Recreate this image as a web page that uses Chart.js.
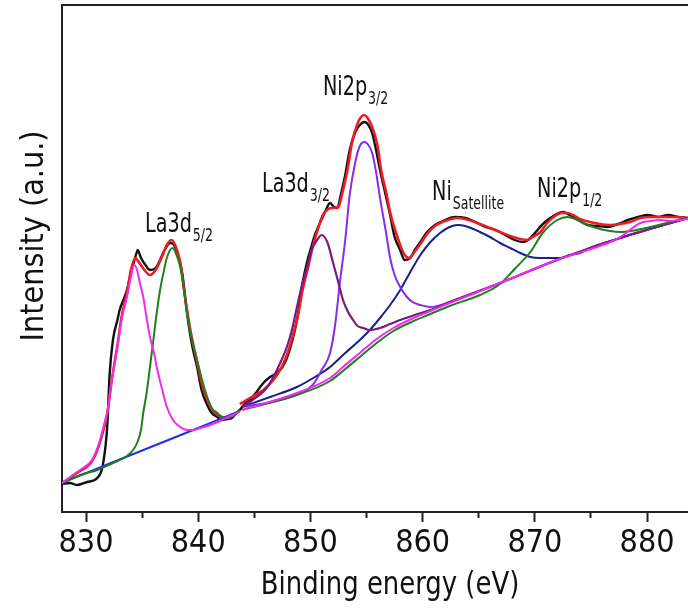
<!DOCTYPE html>
<html>
<head>
<meta charset="utf-8">
<script src="https://cdn.jsdelivr.net/npm/chart.js@4.4.1/dist/chart.umd.min.js"></script>
<style>
  html, body { margin: 0; padding: 0; background: #fff; overflow: hidden; }
  canvas { display: block; }
</style>
</head>
<body>
<canvas id="xps" width="720" height="608"></canvas>
<script>
// binding energy (eV) / intensity (a.u.)

// measured spectrum (black)
const expE = [827.86, 828.57, 829.2, 830.1, 831.0, 831.5, 831.9, 832.1, 832.4, 832.8, 833.0, 833.4, 833.65, 833.9, 834.2, 834.5, 834.6, 834.9, 835.3, 835.7, 836.2, 836.6, 837.0, 837.5, 837.85, 838.2, 838.6, 839.0, 839.45, 839.9, 840.3, 840.8, 841.2, 841.7, 842.1, 842.6, 843.0, 843.4, 843.7, 844.2, 844.6, 845.2, 845.8, 846.4, 847.0, 847.5, 847.9, 848.4, 848.8, 849.3, 849.7, 850.0, 850.4, 850.85, 851.3, 851.75, 852.1, 852.4, 852.7, 853.1, 853.5, 854.0, 854.4, 854.8, 855.1, 855.5, 855.85, 856.2, 856.7, 857.1, 857.5, 858.0, 858.4, 858.9, 859.3, 859.8, 860.4, 861.1, 862.0, 862.9, 863.8, 864.7, 865.6, 866.5, 867.35, 868.2, 868.9, 869.4, 870.0, 870.9, 871.8, 872.5, 873.1, 873.85, 874.7, 875.6, 876.5, 877.4, 878.3, 879.2, 880.1, 881.0, 881.9, 882.8, 883.65];
const expI = [28, 29, 27, 30, 34, 47, 87, 137, 172, 192, 202, 214, 222, 234, 247, 259, 262, 254, 247, 242, 244, 252, 262, 269, 267, 257, 237, 199, 167, 145, 122, 107, 99, 95, 92, 93, 94, 99, 102, 109, 112, 120, 129, 135, 139, 145, 154, 172, 192, 229, 250, 262, 277, 289, 300, 309, 305, 304, 317, 337, 362, 380, 387, 390, 388, 379, 362, 342, 317, 297, 275, 262, 252, 254, 262, 270, 280, 287, 292, 295, 294, 290, 285, 282, 277, 272, 270, 272, 279, 290, 297, 300, 297, 292, 287, 286, 285, 288, 292, 295, 297, 295, 297, 295, 294];

// fit envelope (red), La 3d5/2 window and Ni 2p window
const fit1E = [827.86, 829.2, 830.6, 831.25, 831.9, 832.3, 832.8, 833.2, 833.65, 834.0, 834.4, 834.7, 835.2, 835.7, 836.2, 836.8, 837.2, 837.6, 837.9, 838.4, 838.8, 839.3, 839.9, 840.4, 840.9, 841.4, 841.9, 842.6, 843.2, 843.7];
const fit1I = [29, 39, 52, 70, 99, 132, 167, 197, 219, 242, 254, 250, 242, 237, 242, 256, 267, 272, 268, 250, 217, 182, 150, 125, 110, 100, 96, 94, 97, 102];
const fit2E = [843.7, 844.6, 845.8, 846.7, 847.3, 847.9, 848.4, 848.9, 849.3, 849.8, 850.2, 850.7, 851.1, 851.6, 852.0, 852.5, 852.8, 853.3, 853.7, 854.15, 854.5, 854.8, 855.1, 855.6, 856.0, 856.3, 856.8, 857.1, 857.55, 858.0, 858.4, 858.8, 859.2, 859.8, 860.4, 861.1, 862.0, 863.1, 864.1, 865.1, 866.0, 866.9, 867.8, 868.7, 869.3, 869.8, 870.5, 871.1, 871.8, 872.4, 872.9, 873.4, 874.0, 874.9, 875.8, 876.7, 877.6, 878.5, 879.4, 880.3, 881.4, 882.5, 883.65];
const fit2I = [108, 114, 122, 132, 142, 157, 175, 197, 222, 245, 265, 284, 297, 303, 304, 305, 317, 342, 369, 387, 395, 397, 394, 382, 365, 342, 317, 300, 282, 267, 257, 254, 259, 268, 278, 286, 291, 294, 292, 288, 284, 280, 276, 273, 272, 275, 280, 289, 296, 299, 299, 297, 293, 290, 288, 287, 288, 290, 294, 295, 295, 295, 294];

// La 3d5/2 components
const la1E = [827.86, 829.2, 830.1, 830.6, 831.25, 831.6, 831.9, 832.3, 832.8, 833.2, 833.65, 834.0, 834.3, 834.55, 834.8, 835.1, 835.4, 835.7, 836.1, 836.3, 836.8, 837.2, 837.75, 838.4, 839.0, 839.5, 840.2, 841.05, 841.95, 842.85, 843.7];
const la1I = [29, 40, 47, 53, 72, 87, 100, 132, 165, 194, 215, 235, 247, 242, 229, 215, 194, 175, 157, 145, 122, 105, 92, 85, 82, 82, 84, 87, 91, 96, 100];
const la2E = [827.86, 829.5, 831.0, 832.4, 833.65, 834.2, 834.55, 834.9, 835.1, 835.4, 835.7, 835.97, 836.3, 836.6, 836.9, 837.2, 837.7, 838.0, 838.4, 838.73, 839.0, 839.45, 839.9, 840.34, 840.8, 841.2, 841.7, 842.1, 842.6, 843.1, 843.7];
const la2I = [29, 37, 42, 49, 56, 62, 69, 82, 99, 119, 145, 169, 199, 222, 239, 254, 264, 259, 245, 222, 199, 172, 152, 132, 115, 104, 99, 95, 94, 96, 102];
const bg1E = [827.86, 832.0, 836.0, 840.0, 843.7];
const bg1I = [29, 48, 66, 84, 101];

// Ni 2p window components (each sits on the Shirley background)
const la32E = [843.9, 845.2, 845.95, 846.7, 847.3, 847.9, 848.35, 848.8, 849.25, 849.7, 850.1, 850.6, 851.0, 851.5, 852.0, 852.5, 852.9, 853.35, 853.8, 854.2, 854.7, 855.3, 856.2, 857.1, 858.0, 859.3, 860.7, 862.4, 866.9, 872.2, 877.6, 883.65];
const la32I = [105, 115, 122, 135, 149, 165, 182, 205, 227, 245, 262, 272, 277, 270, 250, 229, 212, 200, 192, 186, 184, 182, 184, 188, 192, 197, 202, 210, 229, 253, 274, 294];
const ni32E = [843.9, 845.5, 847.3, 849.1, 850.2, 851.0, 851.75, 852.2, 852.6, 853.1, 853.5, 854.0, 854.4, 854.8, 855.1, 855.5, 855.85, 856.2, 856.7, 857.1, 857.5, 858.0, 858.6, 859.1, 859.8, 860.7, 862.4, 866.9, 872.2, 877.6, 883.65];
const ni32I = [105, 108, 112, 119, 127, 142, 159, 187, 227, 272, 317, 350, 366, 370, 368, 359, 340, 314, 282, 254, 237, 225, 215, 210, 207, 205, 210, 229, 253, 274, 294];
const satE = [843.9, 846.4, 848.8, 850.4, 851.75, 853.1, 854.4, 855.3, 856.2, 857.1, 858.0, 858.9, 859.8, 860.7, 861.55, 862.4, 863.1, 863.8, 865.1, 866.0, 866.9, 867.8, 868.7, 869.6, 870.5, 871.35, 872.2, 873.1, 874.0, 874.9, 877.6, 883.65];
const satI = [105, 115, 125, 135, 145, 159, 172, 182, 194, 207, 222, 240, 257, 270, 279, 285, 287, 286, 280, 275, 269, 264, 259, 255, 254, 254, 254, 257, 259, 264, 274, 294];
const ni12E = [843.9, 848.8, 851.75, 853.0, 854.4, 855.9, 857.4, 859.0, 860.7, 862.4, 865.1, 866.9, 868.2, 869.6, 870.7, 872.0, 872.9, 873.6, 874.3, 875.5, 876.7, 877.6, 879.1, 880.3, 881.4, 882.4, 883.65];
const ni12I = [102, 117, 131, 142, 155, 169, 181, 190, 198, 206, 217, 228, 243, 260, 279, 292, 295, 293, 289, 284, 281, 280, 282, 285, 288, 291, 294];
const sat2E = [843.9, 848.8, 851.75, 853.0, 854.4, 855.9, 857.4, 859.0, 860.7, 862.4, 864.7, 866.9, 872.2, 875.8, 877.15, 878.0, 878.7, 879.4, 880.3, 881.2, 882.0, 882.9, 883.65];
const sat2I = [102, 119, 134, 146, 159, 173, 184, 193, 201, 209, 219, 229, 253, 266, 272, 278, 284, 289, 291, 292, 291, 292, 293];

// axis
const xMin = 827.86;
const xMax = 886.5;
const xStep = 5;

// peak labels
const peakNames = ["La3d", "La3d", "Ni2p", "Ni", "Ni2p"];
const peakSubs = ["5/2", "3/2", "3/2", "Satellite", "1/2"];

const FONT = '"DejaVu Sans Condensed", "Liberation Sans Narrow", sans-serif';

function pts(xs, ys) {
  return xs.map((x, i) => ({ x, y: ys[i] }));
}

function curve(label, xs, ys, color, width, order) {
  return {
    label,
    data: pts(xs, ys),
    borderColor: color,
    borderWidth: width,
    pointRadius: 0,
    fill: false,
    cubicInterpolationMode: "monotone",
    order
  };
}

// squeezed text, the original uses a narrow face
function narrowText(ctx, text, x, y, size, sx) {
  ctx.save();
  ctx.translate(x, y);
  ctx.scale(sx, 1);
  ctx.font = size + "px " + FONT;
  ctx.fillText(text, 0, 0);
  const w = ctx.measureText(text).width * sx;
  ctx.restore();
  return w;
}

// label anchors in data units (energy, intensity)
const labelAnchors = [[835.26, 280], [845.68, 320], [851.12, 417], [860.84, 312], [870.2, 315]];

const annotate = {
  id: "annotate",
  afterDraw(chart) {
    const { ctx, chartArea, scales: { x, y } } = chart;
    ctx.save();
    ctx.strokeStyle = "#222";
    ctx.lineWidth = 2;
    ctx.beginPath();
    ctx.moveTo(chartArea.left - 1, chartArea.top);
    ctx.lineTo(chartArea.right, chartArea.top);
    ctx.stroke();

    ctx.fillStyle = "#111";
    ctx.textAlign = "left";
    ctx.textBaseline = "alphabetic";
    peakNames.forEach((name, i) => {
      const px = x.getPixelForValue(labelAnchors[i][0]);
      const py = y.getPixelForValue(labelAnchors[i][1]);
      const w = narrowText(ctx, name, px, py, 26, 0.82);
      narrowText(ctx, peakSubs[i], px + w + 1, py + 9, 17, 0.82);
    });

    ctx.textAlign = "center";
    narrowText(ctx, "Binding energy (eV)", 390, 594, 32, 0.9);
    ctx.translate(43, 236);
    ctx.rotate(-Math.PI / 2);
    ctx.font = "32px " + FONT;
    ctx.fillText("Intensity (a.u.)", 0, 0);
    ctx.restore();
  }
};

new Chart(document.getElementById("xps"), {
  type: "line",
  data: {
    datasets: [
      curve("La 3d5/2 a", la1E, la1I, "#ee2cee", 2, 1),
      curve("La 3d5/2 b", la2E, la2I, "#1f7f1f", 2, 1),
      curve("Background", bg1E, bg1I, "#2030e6", 2, 1),
      curve("Ni 2p1/2 sat", sat2E, sat2I, "#ee2cee", 2, 1),
      curve("Ni 2p1/2", ni12E, ni12I, "#1f7f1f", 2, 1),
      curve("La 3d3/2", la32E, la32I, "#7d1a80", 2.2, 1),
      curve("Ni 2p3/2", ni32E, ni32I, "#8a2be8", 2, 1),
      curve("Ni satellite", satE, satI, "#1a1f8c", 2, 1),
      curve("Fit", fit1E, fit1I, "#ee1c24", 2.6, 2),
      curve("Fit 2", fit2E, fit2I, "#ee1c24", 2.6, 2),
      curve("Experiment", expE, expI, "#111111", 2.4, 3)
    ]
  },
  options: {
    responsive: false,
    animation: false,
    events: [],
    layout: { padding: { top: 5, left: 0, right: 0, bottom: 0 } },
    plugins: {
      legend: { display: false },
      tooltip: { enabled: false }
    },
    scales: {
      x: {
        type: "linear",
        min: xMin,
        max: xMax,
        afterFit(scale) { scale.height = 96; },
        border: { display: true, color: "#222", width: 2 },
        grid: {
          display: true,
          drawOnChartArea: false,
          drawTicks: true,
          tickLength: 10,
          tickWidth: 2,
          tickColor: "#222",
          tickBorderDash: (c) => (c.tick && c.tick.value % 10 !== 0 ? [5, 20] : [])
        },
        ticks: {
          stepSize: xStep,
          includeBounds: false,
          autoSkip: false,
          maxRotation: 0,
          padding: 2,
          color: "#111",
          font: { family: FONT, size: 32 },
          callback: (v) => (v % 10 === 0 ? String(v) : "")
        }
      },
      y: {
        type: "linear",
        min: 0,
        max: 507,
        afterFit(scale) { scale.width = 62; },
        border: { display: true, color: "#222", width: 2 },
        grid: { display: false },
        ticks: { display: false }
      }
    }
  },
  plugins: [annotate]
});
</script>
</body>
</html>
